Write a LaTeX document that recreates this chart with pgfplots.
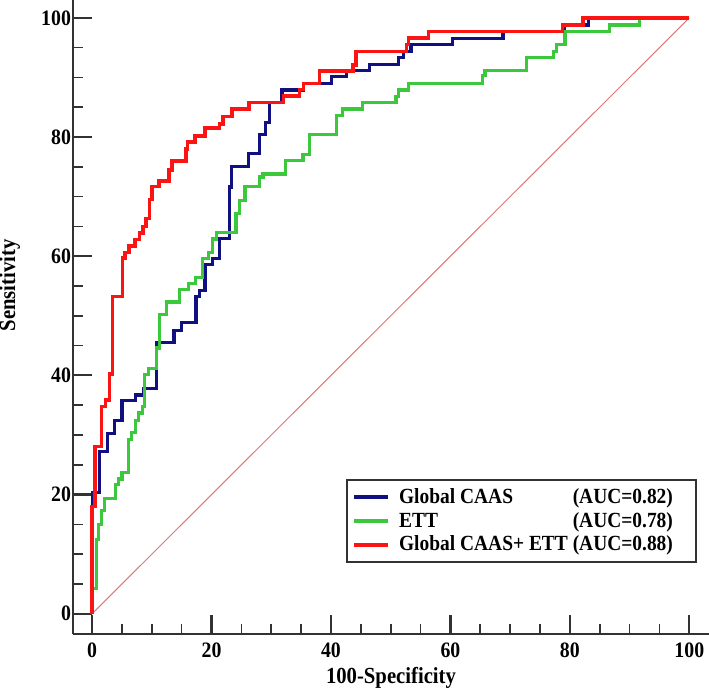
\documentclass[border=0pt]{standalone}
\usepackage{fontspec}
\setmainfont{Liberation Serif}[FakeStretch=0.9]
\usepackage{pgfplots}
\pgfplotsset{compat=1.18}
\definecolor{rocblue}{RGB}{16,16,128}
\definecolor{rocgreen}{RGB}{60,200,60}
\definecolor{rocred}{RGB}{250,20,20}
\definecolor{diag}{RGB}{220,120,120}
\definecolor{spine}{RGB}{50,50,50}
\newcommand{\legfont}{\bfseries\fontsize{10.8}{12.5}\selectfont}
\newlength\legw
\newcommand{\leg}[2]{\makebox[\legw][l]{\hspace{2.5pt}#1\hfill#2\hspace{6.5pt}}}

\begin{document}%
\settowidth\legw{\legfont Global CAAS+ ETT (AUC=0.88)}%
\addtolength\legw{9pt}%
\begin{tikzpicture}
\begin{axis}[
  scale only axis,
  width=318pt, height=317pt,
  xmin=-3.2, xmax=103.3, ymin=-3.4, ymax=103,
  axis lines*=left,
  axis line style={spine, line width=1.3pt},
  xtick={0,20,...,100}, ytick={0,20,...,100},
  minor tick num=3,
  tick align=inside,
  major tick length=9.5pt, minor tick length=5pt,
  major tick style={spine, line width=1.1pt},
  minor tick style={spine, line width=0.8pt},
  /pgf/number format/assume math mode=true,
  tick label style={font=\bfseries\fontsize{11}{13}\selectfont},
  xticklabel style={yshift=-1pt},
  yticklabel style={xshift=2.5pt},
  label style={font=\bfseries\fontsize{11.5}{13.5}\selectfont},
  xlabel={100-Specificity},
  ylabel={Sensitivity},
  xlabel style={inner sep=0pt, yshift=-1pt},
  ylabel style={at={(ticklabel cs:0.55)}, inner sep=0pt, yshift=7pt},
  legend style={at={(rel axis cs:0.981,0.112)}, anchor=south east,
    draw=spine, line width=1pt, font=\legfont,
    cells={anchor=west}, row sep=-1pt},
  legend cell align=left,
]
\addplot[diag, line width=0.5pt, forget plot] coordinates {(0,0) (100,100)};

% Global CAAS
\addplot[rocblue, line width=1.6pt] coordinates {
(0,0) (0,20.4) (1.3,20.4) (1.3,27.2) (2.6,27.2) (2.6,30.3) (3.8,30.3) (3.8,32.4)
(5,32.4) (5,35.8) (7.2,35.8) (7.2,36.7) (8.6,36.7) (8.6,37.8) (10.8,37.8) (10.8,45.5)
(13.7,45.5) (13.7,47.6) (15,47.6) (15,48.9) (17.4,48.9) (17.4,53.3) (18,53.3) (18,54.3)
(18.9,54.3) (18.9,58.6) (20.2,58.6) (20.2,59.6) (21.3,59.6) (21.3,63) (23,63) (23,71.6)
(23.4,71.6) (23.4,75) (26.2,75) (26.2,77.2) (28,77.2) (28,80.4) (29.1,80.4) (29.1,82.4)
(29.7,82.4) (29.7,85.8) (31.8,85.8) (31.8,87.9) (35.4,87.9) (35.4,89) (40.1,89) (40.1,90.1)
(42.6,90.1) (42.6,91.1) (46.4,91.1) (46.4,92.2) (51.3,92.2) (51.3,93.3) (52.2,93.3) (52.2,94.4)
(53.4,94.4) (53.4,95.5) (60.3,95.5) (60.3,96.6) (68.8,96.6) (68.8,97.7) (79.1,97.7) (79.1,98.8)
(83.1,98.8) (83.1,100) (100,100)
};
\addlegendentry{\leg{Global CAAS}{(AUC=0.82)}}

% ETT
\addplot[rocgreen, line width=1.6pt] coordinates {
(0,0) (0,4.2) (0.7,4.2) (0.7,12.5) (1.1,12.5) (1.1,15) (1.6,15) (1.6,17.3)
(2.1,17.3) (2.1,19.4) (3.9,19.4) (3.9,21.7) (4.4,21.7) (4.4,22.6) (5,22.6) (5,23.7)
(6.1,23.7) (6.1,29.3) (6.6,29.3) (6.6,30.4) (7.2,30.4) (7.2,32.4) (7.8,32.4) (7.8,33.7)
(8.4,33.7) (8.4,34.8) (8.8,34.8) (8.8,40.1) (9.4,40.1) (9.4,41.1) (10.8,41.1) (10.8,44.6)
(11.3,44.6) (11.3,50.2) (12.4,50.2) (12.4,52.3) (14.6,52.3) (14.6,54.4) (16.2,54.4) (16.2,55.4)
(17.3,55.4) (17.3,56.4) (18.5,56.4) (18.5,59.6) (19.5,59.6) (19.5,60.6) (20.2,60.6) (20.2,62.9)
(20.8,62.9) (20.8,64) (24.1,64) (24.1,67.2) (24.7,67.2) (24.7,69.4) (25.6,69.4) (25.6,71.7)
(28,71.7) (28,73.3) (28.6,73.3) (28.6,73.8) (32.4,73.8) (32.4,76.1) (35.3,76.1) (35.3,77.1)
(36.4,77.1) (36.4,80.4) (40.9,80.4) (40.9,83.6) (41.9,83.6) (41.9,84.7) (45.3,84.7) (45.3,85.8)
(50.9,85.8) (50.9,86.8) (51.3,86.8) (51.3,87.9) (53,87.9) (53,89) (65.4,89) (65.4,90.3)
(65.8,90.3) (65.8,91.2) (72.7,91.2) (72.7,93.4) (77.2,93.4) (77.2,94.4) (77.7,94.4) (77.7,95.5)
(79.2,95.5) (79.2,97.7) (86.7,97.7) (86.7,98.8) (91.7,98.8) (91.7,100) (100,100)
};
\addlegendentry{\leg{ETT}{(AUC=0.78)}}

% Global CAAS + ETT
\addplot[rocred, line width=1.7pt] coordinates {
(0,0) (0,18) (0.5,18) (0.5,28.1) (1.6,28.1) (1.6,34.8) (2.2,34.8) (2.2,35.9)
(2.9,35.9) (2.9,40.2) (3.4,40.2) (3.4,53.2) (5.1,53.2) (5.1,59.7) (5.5,59.7) (5.5,60.6)
(6.2,60.6) (6.2,61.7) (7.2,61.7) (7.2,62.8) (7.9,62.8) (7.9,63.9) (8.5,63.9) (8.5,65)
(9.05,65) (9.05,66.3) (9.6,66.3) (9.6,69.5) (10,69.5) (10,71.7) (11.2,71.7) (11.2,72.6)
(12.9,72.6) (12.9,74.5) (13.4,74.5) (13.4,76) (15.7,76) (15.7,78) (16,78) (16,79.2)
(17.2,79.2) (17.2,80.2) (18.9,80.2) (18.9,81.5) (21.3,81.5) (21.3,82.2) (21.9,82.2) (21.9,83.4)
(23.4,83.4) (23.4,84.7) (26.3,84.7) (26.3,85.8) (32,85.8) (32,86.9) (34.7,86.9) (34.7,88)
(35.4,88) (35.4,89) (38.1,89) (38.1,91.1) (43.7,91.1) (43.7,92.1) (44.2,92.1) (44.2,94.4)
(52.6,94.4) (52.6,95.5) (53,95.5) (53,96.6) (56.3,96.6) (56.3,97.7) (78.8,97.7) (78.8,98.8)
(82.2,98.8) (82.2,100) (100,100)
};
\addlegendentry{\leg{Global CAAS+ ETT}{(AUC=0.88)}}
\end{axis}
\pgfresetboundingbox
\path[use as bounding box] (current axis.south west) ++(-36.5pt,-27pt) rectangle (current axis.north east);
\end{tikzpicture}%
\end{document}
